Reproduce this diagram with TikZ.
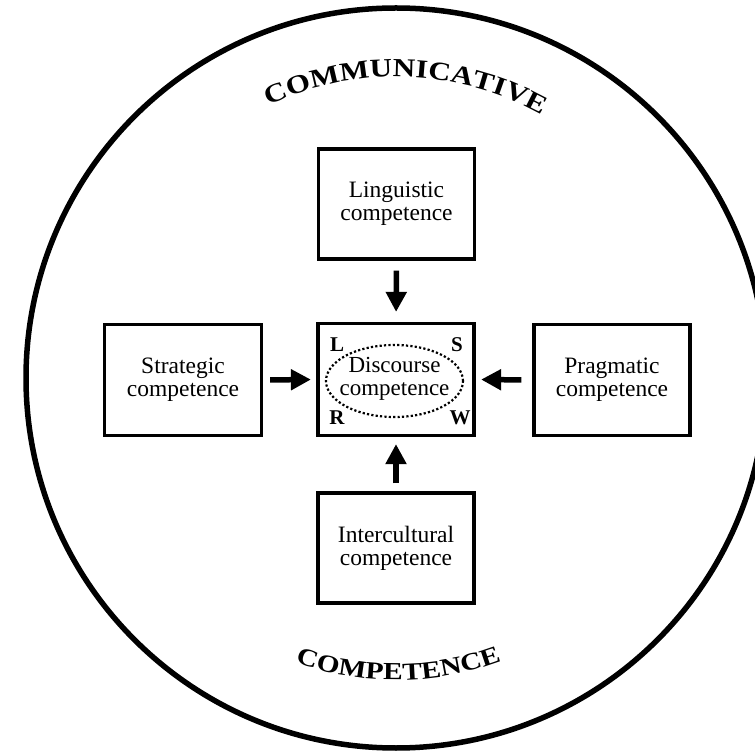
\documentclass[tikz,border=0pt]{standalone}
\usepackage{fontspec}
\setmainfont{Liberation Serif}
\newfontfamily\arcfont[FakeStretch=1.2]{Liberation Serif}
\usetikzlibrary{arrows.meta,shapes.geometric,decorations.text}
\begin{document}
\begin{tikzpicture}[x=1pt,y=1pt,
  box/.style={draw,line width=3.2pt,minimum width=156pt,minimum height=110pt,inner sep=0pt,align=center,font=\fontsize{23.5}{23}\selectfont},
  arr/.style={line width=5.5pt,-{Triangle[length=20pt,width=20pt]}},
  corner/.style={font=\fontsize{21}{22}\selectfont\bfseries,inner sep=0pt},
  dotell/.style={ellipse,draw,line width=2.2pt,dash pattern=on 2.2pt off 2.2pt,minimum width=137pt,minimum height=72pt,inner sep=0pt}
]
\useasboundingbox (0,0) rectangle (755,753);
\coordinate (ctr) at (396,375);
\draw[line width=5.5pt] (ctr) circle[radius=370pt];

% curved titles
\path[decorate,decoration={text along path,text align=center,
  text={|\arcfont\bfseries\fontsize{26}{28}\selectfont|COMMUNICATIVE}}]
  ([shift={(130:301pt)}]ctr) arc[start angle=130,end angle=46,radius=301pt];
\path[decorate,decoration={text along path,text align=center,
  text={|\arcfont\bfseries\fontsize{24.5}{26}\selectfont|COMPETENCE}}]
  ([shift={(228:302pt)}]ctr) arc[start angle=228,end angle=313,radius=302pt];

% boxes
\node[box] (ling) at (396.5,549) {Linguistic\\competence};
\node[box,minimum width=157pt,minimum height=111pt] (strat) at (183,373) {Strategic\\competence};
\node[box,minimum height=112pt] (disc) at (396,373.5) {};
\node[box,minimum height=111pt] (prag) at (612,373) {Pragmatic\\competence};
\node[box] (inter) at (396,205) {Intercultural\\competence};

% discourse content
\node[dotell] (dcell) at (394.5,372) {};
\node[align=center,inner sep=0pt,font=\fontsize{23}{22.5}\selectfont] (dctext) at (394.5,374) {Discourse\\competence};
\node[corner] (cL) at (337,408) {L};
\node[corner] (cS) at (457,408) {S};
\node[corner] (cR) at (337,335) {R};
\node[corner] (cW) at (460,335) {W};

% arrows
\draw[arr,shorten <=10pt,shorten >=10pt] (ling.south) -- (disc.north);
\draw[arr,shorten <=7pt,shorten >=5.5pt] (strat.east) -- (disc.west);
\draw[arr,shorten <=11pt,shorten >=5.5pt] (prag.west) -- (disc.east);
\draw[arr,shorten <=8pt,shorten >=7pt] (inter.north) -- (disc.south);
\end{tikzpicture}
\end{document}
